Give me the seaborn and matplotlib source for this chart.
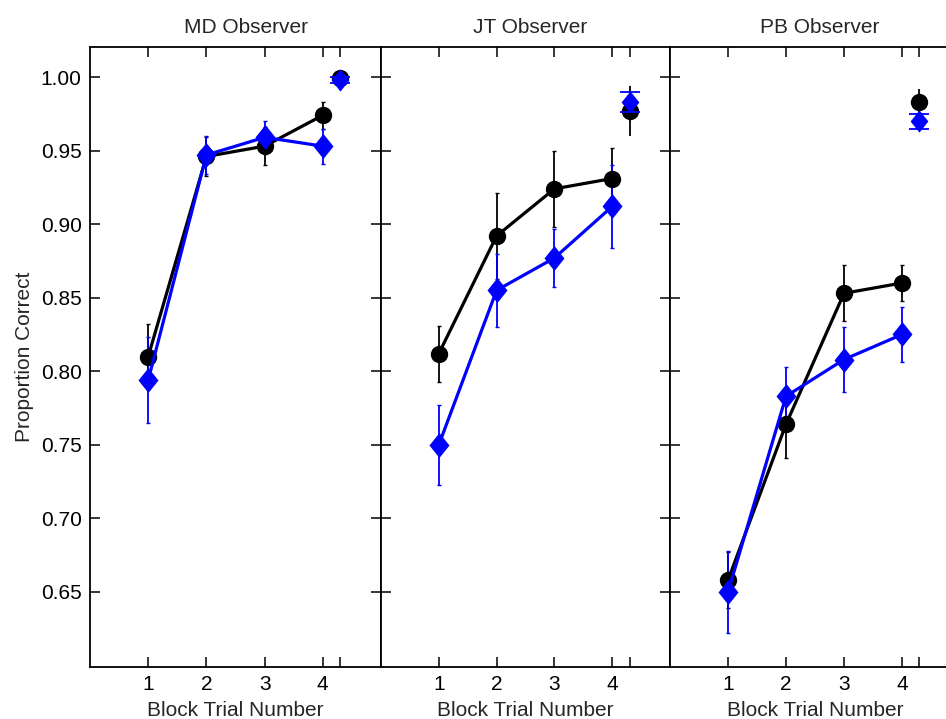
import matplotlib
matplotlib.use("Agg")
import matplotlib.pyplot as plt
import numpy as np
import pandas as pd
import seaborn as sns

# data
observers = ["MD Observer", "JT Observer", "PB Observer"]
blocks = [1, 2, 3, 4]

black_mean = {
    "MD Observer": [0.810, 0.946, 0.953, 0.974],
    "JT Observer": [0.812, 0.892, 0.924, 0.931],
    "PB Observer": [0.658, 0.764, 0.853, 0.860],
}
black_err = {
    "MD Observer": [0.022, 0.013, 0.013, 0.009],
    "JT Observer": [0.019, 0.029, 0.026, 0.021],
    "PB Observer": [0.019, 0.023, 0.019, 0.012],
}
blue_mean = {
    "MD Observer": [0.794, 0.947, 0.959, 0.953],
    "JT Observer": [0.750, 0.855, 0.877, 0.912],
    "PB Observer": [0.650, 0.783, 0.808, 0.825],
}
blue_err = {
    "MD Observer": [0.029, 0.013, 0.011, 0.012],
    "JT Observer": [0.027, 0.025, 0.020, 0.028],
    "PB Observer": [0.028, 0.020, 0.022, 0.019],
}
# separate summary point plotted right of block 4
black_extra = {"MD Observer": 0.999, "JT Observer": 0.977, "PB Observer": 0.983}
black_extra_err = {"MD Observer": 0.002, "JT Observer": 0.017, "PB Observer": 0.009}
blue_extra = {"MD Observer": 0.998, "JT Observer": 0.983, "PB Observer": 0.970}
blue_extra_err = {"MD Observer": 0.002, "JT Observer": 0.007, "PB Observer": 0.005}

EXTRA_X = 4.3
BLUE = "#0000ff"
DIAMOND = [(0, 1), (0.8, 0), (0, -1), (-0.8, 0), (0, 1)]
title_x = [0.536, 0.516, 0.517]

sns.set_style("ticks")
plt.rcParams["font.family"] = ["Liberation Sans", "DejaVu Sans"]

W, H = 946, 719
fig = plt.figure(figsize=(W / 100, H / 100), dpi=100)
edges = [90, 381, 670, 960]
top, bottom = 47, 667

for i, obs in enumerate(observers):
    ax = fig.add_axes([edges[i] / W, (H - bottom) / H,
                       (edges[i + 1] - edges[i]) / W, (bottom - top) / H])

    rows = []
    for b, m in zip(blocks, black_mean[obs]):
        rows.append({"block": b, "pc": m, "cond": "black"})
    for b, m in zip(blocks, blue_mean[obs]):
        rows.append({"block": b, "pc": m, "cond": "blue"})
    df = pd.DataFrame(rows)

    ax.errorbar(blocks, black_mean[obs], yerr=black_err[obs], fmt="none",
                ecolor="black", elinewidth=1.3, capsize=1.5, zorder=2)
    ax.errorbar(blocks, blue_mean[obs], yerr=blue_err[obs], fmt="none",
                ecolor=BLUE, elinewidth=1.3, capsize=1.5, zorder=2)
    sns.lineplot(data=df[df.cond == "black"], x="block", y="pc", color="black",
                 marker="o", markersize=12.5, markeredgewidth=0, linewidth=2.3,
                 legend=False, ax=ax, zorder=3)
    sns.lineplot(data=df[df.cond == "blue"], x="block", y="pc", color=BLUE,
                 marker=DIAMOND, markersize=18, markeredgewidth=0, linewidth=2.3,
                 legend=False, ax=ax, zorder=4)

    ax.errorbar([EXTRA_X], [black_extra[obs]], yerr=[black_extra_err[obs]],
                fmt="o", color="black", markersize=12.5, markeredgewidth=0,
                elinewidth=1.3, capsize=7.5, capthick=1.3, zorder=3)
    ax.errorbar([EXTRA_X], [blue_extra[obs]], yerr=[blue_extra_err[obs]],
                fmt="none", ecolor=BLUE,
                elinewidth=1.3, capsize=7.5, capthick=1.3, zorder=4)
    ax.plot([EXTRA_X], [blue_extra[obs]], linestyle="none", marker=DIAMOND,
            color=BLUE, markersize=16, markeredgewidth=0, zorder=5)

    ax.set_xlim(0, 5)
    ax.set_ylim(0.599, 1.0204)
    ax.set_xticks(blocks + [EXTRA_X])
    ax.set_xticklabels([str(b) for b in blocks] + [""])
    ax.set_yticks([0.65, 0.70, 0.75, 0.80, 0.85, 0.90, 0.95, 1.00])
    ax.tick_params(direction="in", length=7, width=1.1, top=True, right=True,
                   labelsize=15, pad=6, colors="black")
    if i == 0:
        ax.set_yticklabels([f"{v:.2f}" for v in ax.get_yticks()])
        ax.set_ylabel("Proportion Correct", fontsize=15, labelpad=5)
    else:
        ax.set_yticklabels([])
        ax.set_ylabel("")
    ax.set_xlabel("Block Trial Number", fontsize=15, labelpad=5)
    ax.set_title(obs, fontsize=15, pad=10, x=title_x[i])
    for s in ax.spines.values():
        s.set_linewidth(1.3)
        s.set_color("black")

fig.savefig("out.png", dpi=100)
